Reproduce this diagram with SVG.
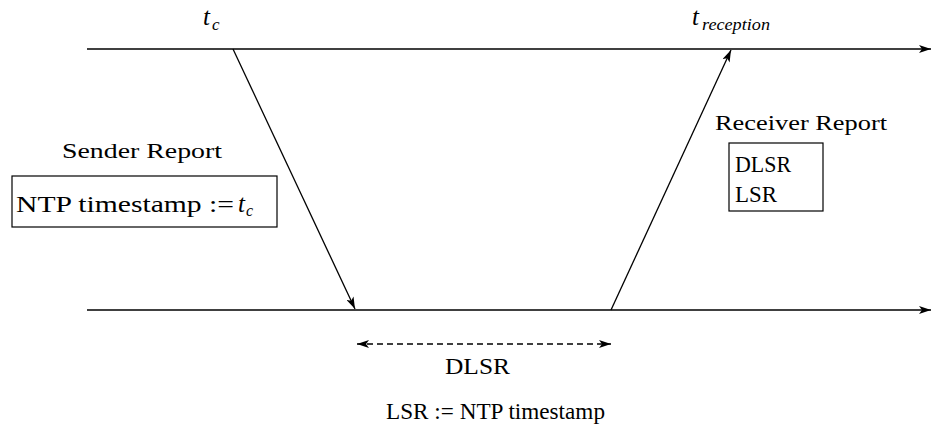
<svg xmlns="http://www.w3.org/2000/svg" width="931" height="439" viewBox="0 0 931 439">
<defs>
<style>
.ln{stroke:#000;stroke-width:1.3;fill:none}
.box{stroke:#000;stroke-width:1.2;fill:#fff}
</style>
<marker id="ah" viewBox="0 0 12 8" refX="12" refY="4" markerWidth="12" markerHeight="8" markerUnits="userSpaceOnUse" orient="auto-start-reverse">
<path d="M0,0 L12,4 L0,8 L3,4 Z" fill="#000"/>
</marker>
</defs>
<rect width="931" height="439" fill="#fff"/>
<g id="connectors">
<line class="ln" x1="87" y1="49" x2="931" y2="49" marker-end="url(#ah)"/>
<line class="ln" x1="87" y1="310" x2="931" y2="310" marker-end="url(#ah)"/>
<line class="ln" x1="233" y1="49" x2="355" y2="309" marker-end="url(#ah)"/>
<line class="ln" x1="611" y1="310" x2="731" y2="50" marker-end="url(#ah)"/>
<line class="ln" x1="357" y1="344" x2="611" y2="344" stroke-dasharray="6,4" marker-start="url(#ah)" marker-end="url(#ah)"/>
</g>
<g id="tc-label" font-family="Liberation Serif" font-style="italic">
<text x="203" y="25" font-size="25">t</text>
<text x="212" y="30" font-size="17">c</text>
</g>
<g id="treception-label" font-family="Liberation Serif" font-style="italic">
<text x="692" y="25" font-size="25">t</text>
<text x="702" y="30" font-size="17" textLength="68" lengthAdjust="spacingAndGlyphs">reception</text>
</g>
<g id="sender-report" font-family="Liberation Serif">
<text x="62" y="158" font-size="22" textLength="160" lengthAdjust="spacingAndGlyphs">Sender Report</text>
<rect class="box" x="12" y="176" width="265" height="51"/>
<text x="16" y="212" font-size="24" textLength="218" lengthAdjust="spacingAndGlyphs">NTP timestamp :=</text>
<text x="238" y="212" font-size="25" font-style="italic">t</text>
<text x="246" y="216" font-size="16" font-style="italic">c</text>
</g>
<g id="receiver-report" font-family="Liberation Serif">
<text x="715" y="130" font-size="22" textLength="172" lengthAdjust="spacingAndGlyphs">Receiver Report</text>
<rect class="box" x="729" y="143" width="94" height="68"/>
<text x="735" y="172" font-size="23" textLength="56" lengthAdjust="spacingAndGlyphs">DLSR</text>
<text x="735" y="202" font-size="23" textLength="42" lengthAdjust="spacingAndGlyphs">LSR</text>
</g>
<g id="dlsr-label" font-family="Liberation Serif">
<text x="445" y="374" font-size="23" textLength="65" lengthAdjust="spacingAndGlyphs">DLSR</text>
</g>
<g id="lsr-def" font-family="Liberation Serif">
<text x="386" y="419" font-size="23" textLength="219" lengthAdjust="spacingAndGlyphs">LSR := NTP timestamp</text>
</g>
</svg>
